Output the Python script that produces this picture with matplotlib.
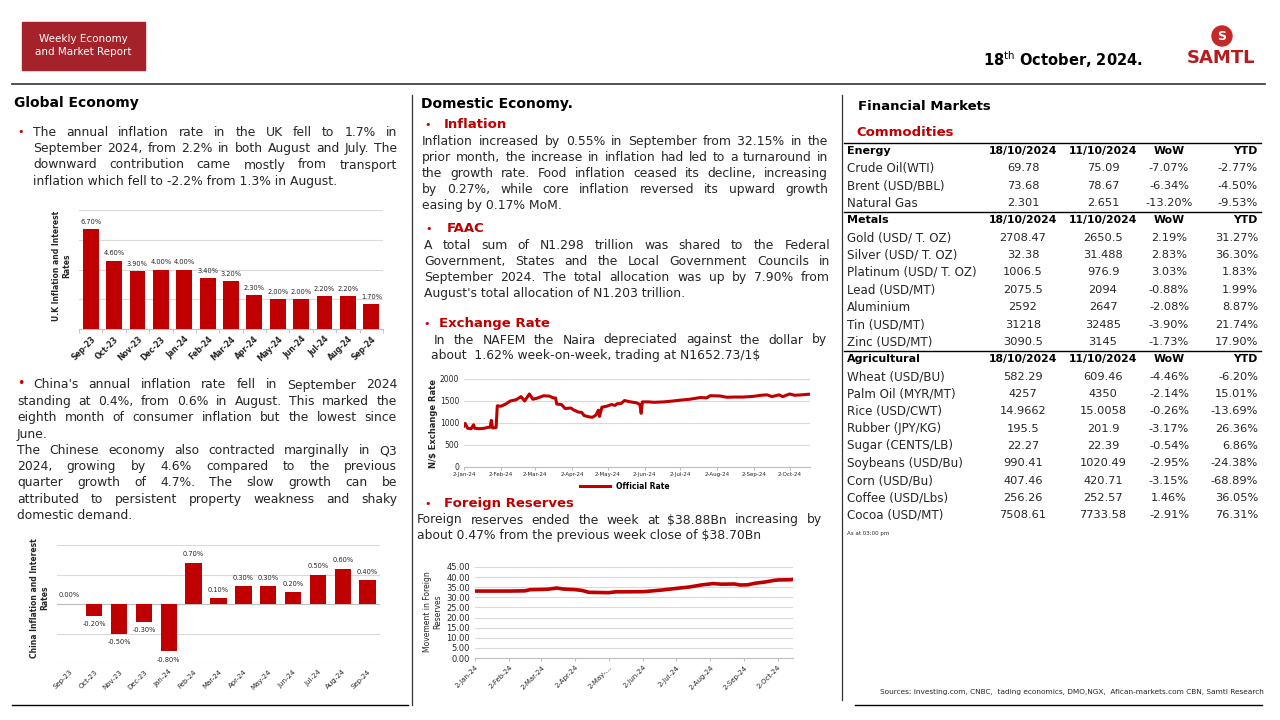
import numpy as np
import pandas as pd
import matplotlib
matplotlib.use('Agg')
import matplotlib.pyplot as plt
from matplotlib.patches import Rectangle, Circle

RED = '#C00000'
TXT = '#262626'
GRID = '#D9D9D9'
BODY = 8.9

# ---- chart data ----
uk_months = ['Sep-23', 'Oct-23', 'Nov-23', 'Dec-23', 'Jan-24', 'Feb-24', 'Mar-24',
             'Apr-24', 'May-24', 'Jun-24', 'Jul-24', 'Aug-24', 'Sep-24']
uk_cpi = [6.7, 4.6, 3.9, 4.0, 4.0, 3.4, 3.2, 2.3, 2.0, 2.0, 2.2, 2.2, 1.7]
cn_cpi = [0.0, -0.2, -0.5, -0.3, -0.8, 0.7, 0.1, 0.3, 0.3, 0.2, 0.5, 0.6, 0.4]

fx_dates = ['2024-01-02', '2024-01-03', '2024-01-05', '2024-01-08', '2024-01-10', '2024-01-11',
            '2024-01-15', '2024-01-19', '2024-01-22', '2024-01-24', '2024-01-25', '2024-01-26',
            '2024-01-29', '2024-01-30', '2024-02-02', '2024-02-06', '2024-02-10', '2024-02-15',
            '2024-02-19', '2024-02-22', '2024-02-26', '2024-02-29', '2024-03-03', '2024-03-09',
            '2024-03-14', '2024-03-17', '2024-03-19', '2024-03-20', '2024-03-24', '2024-03-27',
            '2024-04-01', '2024-04-03', '2024-04-07', '2024-04-10', '2024-04-12', '2024-04-16',
            '2024-04-19', '2024-04-22', '2024-04-24', '2024-04-25', '2024-04-27', '2024-05-01',
            '2024-05-05', '2024-05-08', '2024-05-10', '2024-05-13', '2024-05-16', '2024-05-21',
            '2024-05-26', '2024-05-29', '2024-05-30', '2024-05-31', '2024-06-05', '2024-06-10',
            '2024-06-18', '2024-06-26', '2024-07-02', '2024-07-10', '2024-07-19', '2024-07-24',
            '2024-07-27', '2024-08-04', '2024-08-10', '2024-08-16', '2024-08-24', '2024-09-01',
            '2024-09-08', '2024-09-13', '2024-09-17', '2024-09-23', '2024-09-26', '2024-10-02',
            '2024-10-06', '2024-10-12', '2024-10-16', '2024-10-18']
fx_rate = [935, 990, 880, 870, 960, 880, 870, 880, 900, 905, 1060, 890,
           895, 1390, 1380, 1430, 1500, 1530, 1600, 1500, 1660, 1540, 1560, 1620,
           1610, 1570, 1570, 1430, 1420, 1330, 1340, 1300, 1250, 1240, 1170, 1140,
           1130, 1180, 1290, 1150, 1360, 1380, 1420, 1400, 1440, 1440, 1510, 1480,
           1460, 1420, 1220, 1480, 1480, 1470, 1480, 1500, 1520, 1540, 1580, 1570,
           1620, 1615, 1585, 1590, 1590, 1605, 1630, 1640, 1600, 1640, 1600, 1660,
           1630, 1640, 1650, 1653]
fx_ticklabels = ['2-Jan-24', '2-Feb-24', '2-Mar-24', '2-Apr-24', '2-May-24',
                 '2-Jun-24', '2-Jul-24', '2-Aug-24', '2-Sep-24', '2-Oct-24']

res_dates = ['2024-01-02', '2024-02-02', '2024-02-16', '2024-02-21', '2024-03-02', '2024-03-08',
             '2024-03-16', '2024-03-22', '2024-04-02', '2024-04-08', '2024-04-14', '2024-05-02',
             '2024-05-08', '2024-06-02', '2024-06-07', '2024-06-19', '2024-07-02', '2024-07-14',
             '2024-07-26', '2024-08-05', '2024-08-12', '2024-08-24', '2024-08-29', '2024-09-05',
             '2024-09-12', '2024-09-21', '2024-09-29', '2024-10-03', '2024-10-14', '2024-10-16']
res_bn = [33.1, 33.1, 33.2, 33.8, 33.9, 34.0, 34.6, 34.1, 33.8, 33.4, 32.5, 32.3,
          32.7, 32.8, 33.0, 33.6, 34.4, 35.1, 36.2, 36.8, 36.5, 36.6, 36.1, 36.2,
          37.0, 37.6, 38.4, 38.6, 38.7, 38.9]
res_ticklabels = ['2-Jan-24', '2-Feb-24', '2-Mar-24', '2-Apr-24', '2-May-...',
                  '2-Jun-24', '2-Jul-24', '2-Aug-24', '2-Sep-24', '2-Oct-24']

# ---- commodities table ----
tbl_cols = ['18/10/2024', '11/10/2024', 'WoW', 'YTD']
energy_names = ['Crude Oil(WTI)', 'Brent (USD/BBL)', 'Natural Gas']
energy_now = ['69.78', '73.68', '2.301']
energy_prev = ['75.09', '78.67', '2.651']
energy_wow = [-7.07, -6.34, -13.20]
energy_ytd = [-2.77, -4.50, -9.53]

metal_names = ['Gold (USD/ T. OZ)', 'Silver (USD/ T. OZ)', 'Platinum (USD/ T. OZ)',
               'Lead (USD/MT)', 'Aluminium', 'Tin (USD/MT)', 'Zinc (USD/MT)']
metal_now = ['2708.47', '32.38', '1006.5', '2075.5', '2592', '31218', '3090.5']
metal_prev = ['2650.5', '31.488', '976.9', '2094', '2647', '32485', '3145']
metal_wow = [2.19, 2.83, 3.03, -0.88, -2.08, -3.90, -1.73]
metal_ytd = [31.27, 36.30, 1.83, 1.99, 8.87, 21.74, 17.90]

agri_names = ['Wheat (USD/BU)', 'Palm Oil (MYR/MT)', 'Rice (USD/CWT)', 'Rubber (JPY/KG)',
              'Sugar (CENTS/LB)', 'Soybeans (USD/Bu)', 'Corn (USD/Bu)', 'Coffee (USD/Lbs)',
              'Cocoa (USD/MT)']
agri_now = ['582.29', '4257', '14.9662', '195.5', '22.27', '990.41', '407.46', '256.26', '7508.61']
agri_prev = ['609.46', '4350', '15.0058', '201.9', '22.39', '1020.49', '420.71', '252.57', '7733.58']
agri_wow = [-4.46, -2.14, -0.26, -3.17, -0.54, -2.95, -3.15, 1.46, -2.91]
agri_ytd = [-6.20, 15.01, -13.69, 26.36, 6.86, -24.38, -68.89, 36.05, 76.31]

fig = plt.figure(figsize=(12.8, 7.2), dpi=100)
page = fig.add_axes([0, 0, 1, 1])
page.set_xlim(0, 1280)
page.set_ylim(720, 0)
page.axis('off')
renderer = fig.canvas.get_renderer()


def box(x0, y0, x1, y1):
    return [x0 / 1280, 1 - y1 / 720, (x1 - x0) / 1280, (y1 - y0) / 720]


def para(lines, x0, x1, y0, dy, size=BODY, justify_last=False):
    # justified text, one word at a time
    for i, line in enumerate(lines):
        y = y0 + i * dy
        words = line.split()
        if (i == len(lines) - 1 and not justify_last) or len(words) == 1:
            page.text(x0, y, line, fontsize=size, color=TXT, va='center')
            continue
        ts = [page.text(0, y, w, fontsize=size, color=TXT, va='center') for w in words]
        ws = [t.get_window_extent(renderer).width for t in ts]
        gap = (x1 - x0 - sum(ws)) / (len(ws) - 1)
        x = x0
        for t, w in zip(ts, ws):
            t.set_x(x)
            x += w + gap


# ---- header ----
page.add_patch(Rectangle((22, 22), 123, 48, color='#A6222A'))
page.text(83, 39, 'Weekly Economy', color='white', fontsize=7.5, ha='center', va='center')
page.text(83, 52, 'and Market Report', color='white', fontsize=7.5, ha='center', va='center')
page.text(1143, 60, r'18$^{\mathrm{th}}$ October, 2024.', fontsize=10.5, fontweight='bold',
          ha='right', va='center', color='black')
page.add_patch(Circle((1222, 36), 10, color='#C62828'))
page.text(1222, 36.5, 'S', color='white', fontsize=9, fontweight='bold', ha='center', va='center')
page.text(1221, 58, 'SAMTL', color='#B71C1C', fontsize=13, fontweight='bold', ha='center', va='center')
page.plot([12, 1265], [84, 84], color='#444444', lw=1.3)
page.plot([412, 412], [95, 705], color='#333333', lw=0.9)
page.plot([842, 842], [95, 700], color='#333333', lw=0.9)
page.plot([12, 408], [705, 705], color='black', lw=1)
page.plot([855, 1262], [705, 705], color='black', lw=1)

# ---- left column ----
page.text(14, 103, 'Global Economy', fontsize=10, fontweight='bold', va='center', color='black')
page.text(17, 132, '•', color=RED, fontsize=8, va='center')
para(['The annual inflation rate in the UK fell to 1.7% in',
      'September 2024, from 2.2% in both August and July. The',
      'downward contribution came mostly from transport',
      'inflation which fell to -2.2% from 1.3% in August.'], 33, 397, 132, 16.5)

page.text(17, 384, '•', color=RED, fontsize=9, va='center')
para(["China's annual inflation rate fell in September 2024"], 33, 397, 385, 16.4, justify_last=True)
para(['standing at 0.4%, from 0.6% in August. This marked the',
      'eighth month of consumer inflation but the lowest since',
      'June.'], 17, 397, 401.5, 16.3)
para(['The Chinese economy also contracted marginally in Q3',
      '2024, growing by 4.6% compared to the previous',
      'quarter growth of 4.7%. The slow growth can be',
      'attributed to persistent property weakness and shaky',
      'domestic demand.'], 17, 397, 450.5, 16.2)

# UK bar chart
ax1 = fig.add_axes(box(79, 210, 383, 329))
x = np.arange(len(uk_months))
ax1.bar(x, uk_cpi, width=0.68, color=RED, zorder=3)
ax1.set_ylim(0, 8)
ax1.set_xlim(-0.5, len(uk_months) - 0.5)
ax1.set_yticks([2, 4, 6, 8])
ax1.yaxis.grid(True, color=GRID, lw=0.8)
ax1.tick_params(axis='y', length=0, labelleft=False)
for s in ['top', 'right', 'left']:
    ax1.spines[s].set_visible(False)
ax1.spines['bottom'].set_color('#BFBFBF')
ax1.set_xticks(x)
ax1.set_xticklabels(uk_months, rotation=45, ha='right', rotation_mode='anchor',
                    fontsize=5.5, fontweight='bold', color=TXT)
ax1.tick_params(axis='x', length=0, pad=4)
ax1.set_xticks(np.arange(-0.5, len(uk_months)), minor=True)
ax1.tick_params(axis='x', which='minor', length=3, color='#BFBFBF')
for xi, v in zip(x, uk_cpi):
    ax1.annotate(f'{v:.2f}%', (xi, v), xytext=(0, 3), textcoords='offset points',
                 ha='center', va='bottom', fontsize=4.8, color=TXT)
ax1.patch.set_alpha(0)
page.text(62, 266, 'U.K Inflation and Interest\nRates', rotation=90, fontsize=5.5,
          fontweight='bold', ha='center', va='center', multialignment='center', color=TXT)

# China bar chart
ax2 = fig.add_axes(box(57, 545, 380, 663))
ax2.bar(x, cn_cpi, width=0.66, color=RED, zorder=3)
ax2.set_ylim(-1, 1)
ax2.set_xlim(-0.5, len(uk_months) - 0.5)
ax2.set_yticks([-1, -0.5, 0, 0.5, 1])
ax2.yaxis.grid(True, color=GRID, lw=0.8)
ax2.axhline(0, color='#BFBFBF', lw=0.8, zorder=2)
ax2.tick_params(axis='y', length=0, labelleft=False)
for s in ax2.spines.values():
    s.set_visible(False)
ax2.set_xticks(x)
ax2.set_xticklabels(uk_months, rotation=45, ha='right', rotation_mode='anchor',
                    fontsize=5, color=TXT)
ax2.tick_params(axis='x', length=0, pad=4)
for xi, v in zip(x, cn_cpi):
    if v >= 0:
        ax2.annotate(f'{v:.2f}%', (xi, v), xytext=(0, 4), textcoords='offset points',
                     ha='center', va='bottom', fontsize=4.8, color=TXT)
    else:
        ax2.annotate(f'{v:.2f}%', (xi, v), xytext=(0, -4), textcoords='offset points',
                     ha='center', va='top', fontsize=4.8, color=TXT)
ax2.patch.set_alpha(0)
page.text(40, 598, 'China Inflation and Interest\nRates', rotation=90, fontsize=5.5,
          fontweight='bold', ha='center', va='center', multialignment='center', color=TXT)

# ---- middle column ----
page.text(421, 104, 'Domestic Economy.', fontsize=10, fontweight='bold', va='center', color='black')
page.text(424, 125, '•', color=RED, fontsize=8, va='center')
page.text(444, 125, 'Inflation', color=RED, fontsize=9.5, fontweight='bold', va='center')
para(['Inflation increased by 0.55% in September from 32.15% in the',
      'prior month, the increase in inflation had led to a turnaround in',
      'the growth rate. Food inflation ceased its decline, increasing',
      'by 0.27%, while core inflation reversed its upward growth',
      'easing by 0.17% MoM.'], 422, 828, 141.5, 16)

page.text(425, 229, '•', color=RED, fontsize=8, va='center')
page.text(447, 229, 'FAAC', color=RED, fontsize=9.5, fontweight='bold', va='center')
para(['A total sum of N1.298 trillion was shared to the Federal',
      'Government, States and the Local Government Councils in',
      'September 2024. The total allocation was up by 7.90% from',
      "August's total allocation of N1.203 trillion."], 424, 830, 245.7, 16)

page.text(423, 324, '•', color=RED, fontsize=8, va='center')
page.text(439, 324, 'Exchange Rate', color=RED, fontsize=9.5, fontweight='bold', va='center')
para(['In the NAFEM the Naira depreciated against the dollar by'], 434, 827, 340, 16,
     justify_last=True)
para([r'about  1.62% week-on-week, trading at N1652.73/1\$'], 431, 827, 356, 16)

# exchange rate chart
ax3 = fig.add_axes(box(464, 379, 810, 467))
ax3.plot(pd.to_datetime(fx_dates), fx_rate, color=RED, lw=2.2, label='Official Rate')
ax3.set_ylim(0, 2000)
ax3.set_yticks(np.arange(0, 2001, 500))
ax3.set_xlim(pd.Timestamp('2024-01-02'), pd.Timestamp('2024-10-19'))
ax3.set_xticks(pd.to_datetime(['2024-%02d-02' % m for m in range(1, 11)]))
ax3.set_xticklabels(fx_ticklabels, fontsize=4, color=TXT)
ax3.tick_params(axis='y', length=0, labelsize=5.5, labelcolor=TXT)
ax3.tick_params(axis='x', length=2, color='#BFBFBF', pad=1.5)
ax3.yaxis.grid(True, color=GRID, lw=0.8)
for s in ['top', 'right', 'left']:
    ax3.spines[s].set_visible(False)
ax3.spines['bottom'].set_color('#BFBFBF')
ax3.legend(loc='center', bbox_to_anchor=(0.465, -0.22), frameon=False, handlelength=4,
           prop={'size': 5.5, 'weight': 'bold'})
ax3.patch.set_alpha(0)
page.text(433, 423, r'N/\$ Exchange Rate', rotation=90, fontsize=6, fontweight='bold',
          ha='center', va='center', color=TXT)

page.text(424, 504, '•', color=RED, fontsize=8, va='center')
page.text(444, 504, 'Foreign Reserves', color=RED, fontsize=9.5, fontweight='bold', va='center')
para([r'Foreign reserves ended the week at \$38.88Bn increasing by'], 417, 822, 520, 16,
     justify_last=True)
para([r'about 0.47% from the previous week close of \$38.70Bn'], 417, 822, 536, 16)

# reserves chart
ax4 = fig.add_axes(box(475, 567, 793, 658))
ax4.plot(pd.to_datetime(res_dates), res_bn, color=RED, lw=2.6)
ax4.set_ylim(0, 45)
ax4.set_yticks(np.arange(0, 46, 5))
ax4.set_yticklabels([f'{v:.2f}' for v in np.arange(0, 46, 5)])
ax4.set_xlim(pd.Timestamp('2024-01-02'), pd.Timestamp('2024-10-16'))
ax4.set_xticks(pd.to_datetime(['2024-%02d-02' % m for m in range(1, 11)]))
ax4.set_xticklabels(res_ticklabels, rotation=45, ha='right', rotation_mode='anchor',
                    fontsize=5, color=TXT)
ax4.tick_params(axis='y', length=0, labelsize=6, labelcolor=TXT)
ax4.tick_params(axis='x', length=2.5, color='#BFBFBF', pad=2)
ax4.yaxis.grid(True, color=GRID, lw=0.8)
for s in ['top', 'right', 'left']:
    ax4.spines[s].set_visible(False)
ax4.spines['bottom'].set_color('#BFBFBF')
ax4.patch.set_alpha(0)
page.text(433, 612, 'Movement in Foreign\nReserves', rotation=90, fontsize=5.5,
          ha='center', va='center', multialignment='center', color=TXT)

# ---- right column: commodities table ----
page.text(858, 107, 'Financial Markets', fontsize=9.5, fontweight='bold', va='center', color='black')
page.text(856, 132, 'Commodities', fontsize=9.5, fontweight='bold', va='center', color=RED)

col_x = [1023, 1103, 1169, 1258]
col_ha = ['center', 'center', 'center', 'right']
sections = [('Energy', energy_names, energy_now, energy_prev, energy_wow, energy_ytd),
            ('Metals', metal_names, metal_now, metal_prev, metal_wow, metal_ytd),
            ('Agricultural', agri_names, agri_now, agri_prev, agri_wow, agri_ytd)]
row_h = 17.35
y = 151
for title, names, now, prev, wow, ytd in sections:
    page.plot([844, 1261], [y - 8.5, y - 8.5], color='black', lw=1)
    page.text(847, y, title, fontsize=8, fontweight='bold', va='center', color='black')
    for cx, ha, c in zip(col_x, col_ha, tbl_cols):
        page.text(cx, y, c, fontsize=7.8, fontweight='bold', va='center', ha=ha, color='black')
    y += row_h
    for n, a, b, w, t in zip(names, now, prev, wow, ytd):
        vals = [a, b, f'{w:.2f}%', f'{t:.2f}%']
        page.text(847, y, n, fontsize=8.6, va='center', color=TXT)
        for cx, ha, v in zip(col_x, col_ha, vals):
            page.text(cx, y, v, fontsize=8.2, va='center', ha=ha, color=TXT)
        y += row_h
page.text(847, 534, 'As at 03:00 pm', fontsize=4, va='center', color=TXT)

page.text(1264, 692, 'Sources: investing.com, CNBC,  tading economics, DMO,NGX,  Afican-markets.com CBN, Samtl Research',
          fontsize=5.3, ha='right', va='center', color=TXT)

fig.savefig('out.png', dpi=100)
